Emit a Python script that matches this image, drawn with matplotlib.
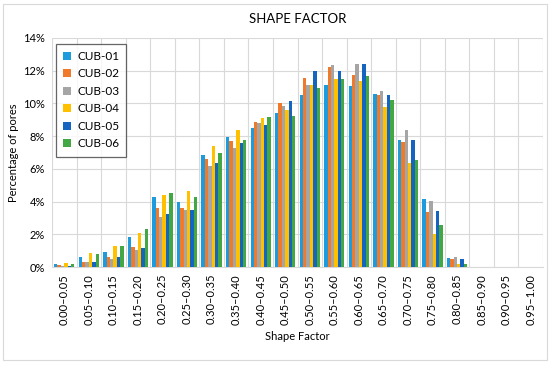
import numpy as np
import matplotlib.pyplot as plt
from matplotlib.patches import Rectangle

plt.rcParams['font.family'] = ['Lato', 'DejaVu Sans']

bins = ["0.00\u20130.05", "0.05\u20130.10", "0.10\u20130.15", "0.15\u20130.20", "0.20\u20130.25",
        "0.25\u20130.30", "0.30\u20130.35", "0.35\u20130.40", "0.40\u20130.45", "0.45\u20130.50",
        "0.50\u20130.55", "0.55\u20130.60", "0.60\u20130.65", "0.65\u20130.70", "0.70\u20130.75",
        "0.75\u20130.80", "0.80\u20130.85", "0.85\u20130.90", "0.90\u20130.95", "0.95\u20131.00"]

series_names = ["CUB-01", "CUB-02", "CUB-03", "CUB-04", "CUB-05", "CUB-06"]

cub01 = [0.16, 0.60, 0.92, 1.85, 4.27, 4.00, 6.84, 7.93, 8.50, 9.40, 10.49, 11.15, 11.05, 10.55, 7.75, 4.14, 0.55, 0, 0, 0]
cub02 = [0.10, 0.33, 0.62, 1.25, 3.63, 3.61, 6.60, 7.73, 8.85, 10.04, 11.54, 12.21, 11.76, 10.51, 7.62, 3.36, 0.49, 0, 0, 0]
cub03 = [0.06, 0.33, 0.47, 1.05, 3.04, 3.49, 6.15, 7.25, 8.81, 9.82, 11.13, 12.34, 12.38, 10.78, 8.40, 4.04, 0.64, 0, 0, 0]
cub04 = [0.22, 0.84, 1.29, 2.07, 4.39, 4.64, 7.38, 8.40, 9.08, 9.59, 11.13, 11.48, 11.35, 9.80, 6.37, 2.03, 0.20, 0, 0, 0]
cub05 = [0.08, 0.33, 0.60, 1.19, 3.26, 3.49, 6.35, 7.60, 8.67, 10.12, 11.97, 12.00, 12.42, 10.49, 7.77, 3.40, 0.51, 0, 0, 0]
cub06 = [0.20, 0.78, 1.29, 2.32, 4.50, 4.31, 6.99, 7.77, 9.18, 9.22, 10.96, 11.52, 11.66, 10.18, 6.56, 2.56, 0.16, 0, 0, 0]

data = [cub01, cub02, cub03, cub04, cub05, cub06]
colors = ["#1E9BDC", "#F07A2C", "#A5A5A5", "#FFC000", "#1565C0", "#43A843"]

fig = plt.figure(figsize=(5.5, 3.65), dpi=100)
ax = fig.add_axes([52/550, 1 - 267/365, 491/550, 229/365])

x = np.arange(len(bins))
w = 0.138
for i, (vals, c, name) in enumerate(zip(data, colors, series_names)):
    ax.bar(x + (i - 2.5) * w, vals, width=w, color=c, label=name, zorder=3)

ax.set_xlim(-0.5, len(bins) - 0.5)
ax.set_ylim(0, 14)
ax.set_yticks(np.arange(0, 15, 2))
ax.set_yticklabels([f"{v}%" for v in range(0, 15, 2)], fontsize=8)
ax.set_xticks(x)
ax.set_xticklabels(bins, rotation=90, fontsize=8)
ax.set_xticks(np.arange(-0.5, len(bins), 1), minor=True)
ax.grid(True, axis='y', color='#D9D9D9', linewidth=0.8, zorder=0)
ax.grid(True, axis='x', which='minor', color='#D9D9D9', linewidth=0.8, zorder=0)
ax.tick_params(axis='both', which='both', length=0, pad=5)
for s in ax.spines.values():
    s.set_visible(False)
ax.spines['bottom'].set_visible(True)
ax.spines['bottom'].set_color('#D9D9D9')

ax.set_title("SHAPE FACTOR", fontsize=9.5, pad=11)
ax.set_xlabel("Shape Factor", fontsize=8, labelpad=4)
ax.set_ylabel("Percentage of pores", fontsize=8, labelpad=3)

leg = ax.legend(loc='upper left', fontsize=8.5, frameon=True, fancybox=False,
                handlelength=0.7, handleheight=0.7, handletextpad=0.5,
                labelspacing=0.55, borderpad=0.6, bbox_to_anchor=(-0.004, 1.0))
leg.get_frame().set_edgecolor('#404040')
leg.get_frame().set_linewidth(0.9)

fig.patches.append(Rectangle((3/550, 5/365), 544/550, 356/365, transform=fig.transFigure,
                             fill=False, edgecolor='#D9D9D9', linewidth=0.8))

fig.savefig("out.png", dpi=100)
